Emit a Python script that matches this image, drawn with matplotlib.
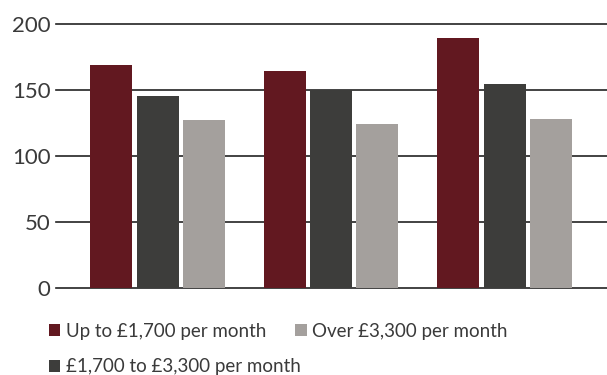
import numpy as np
import matplotlib
matplotlib.use("Agg")
import matplotlib.pyplot as plt

# values
series = ["Up to £1,700 per month", "£1,700 to £3,300 per month", "Over £3,300 per month"]
colors = ["#621820", "#3d3d3b", "#a4a09d"]
up_to_1700 = [169, 165, 190]
mid_1700_3300 = [146, 150, 155]
over_3300 = [127.5, 124.5, 128]
yticks = [0, 50, 100, 150, 200]

plt.rcParams['font.family'] = ['Lato', 'DejaVu Sans']

fig = plt.figure(figsize=(6.07, 3.75), dpi=100)
ax = fig.add_axes([0.0923, 0.2312, 0.9077, 0.7040])

x = np.arange(3)
width = 0.242
step = 0.266
for i, vals in enumerate([up_to_1700, mid_1700_3300, over_3300]):
    ax.bar(x + (i - 1) * step, vals, width, color=colors[i], label=series[i], zorder=3)

ax.set_xlim(-0.585, 2.59)
ax.set_ylim(0, 200)
ax.set_yticks(yticks)
ax.set_xticks([])
for y in yticks:
    ax.axhline(y, color="#222222", lw=1.2, zorder=1, clip_on=False)
for s in ax.spines.values():
    s.set_visible(False)
ax.tick_params(axis='y', length=0, pad=4, labelsize=16, labelcolor="#3a3a3a")

leg = fig.legend(loc='upper left', bbox_to_anchor=(0.081, 0.14), ncol=2, frameon=False,
                 fontsize=13.5, handlelength=0.6, handleheight=0.6, handletextpad=0.3,
                 columnspacing=-0.3, labelspacing=1.0, borderaxespad=0, borderpad=0)
for t in leg.get_texts():
    t.set_color("#3a3a3a")

fig.savefig("out.png", dpi=100)
